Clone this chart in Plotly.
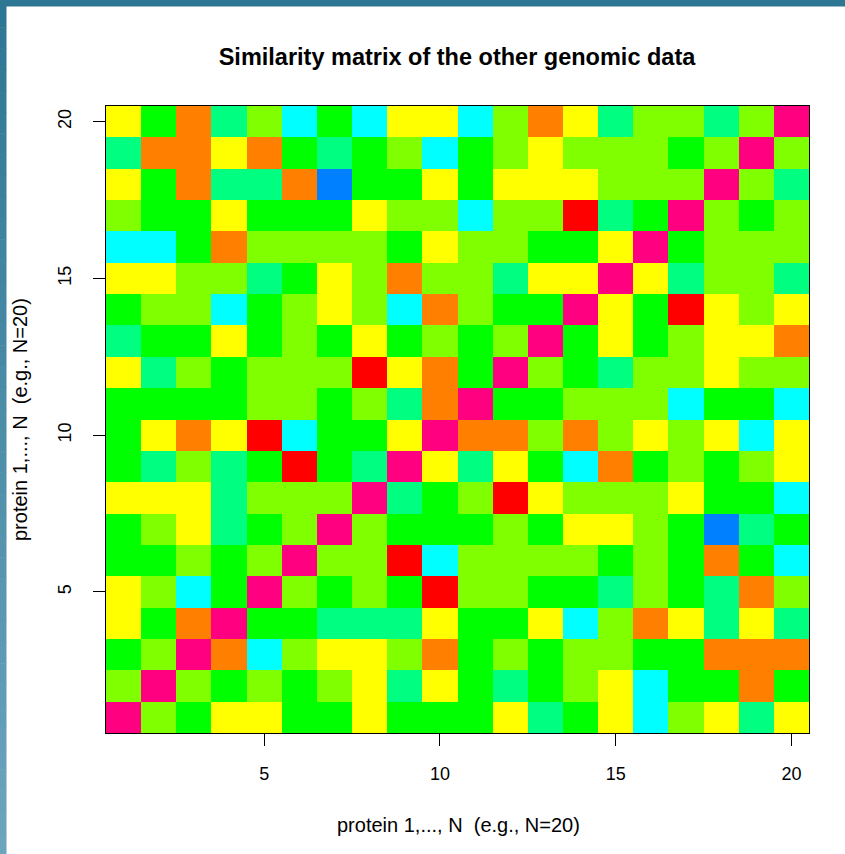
import plotly.graph_objects as go

# Similarity levels (0=red ... 8=magenta/diagonal), rows are protein 1..20 (y), columns protein 1..20 (x)
level_colors = ["#FF0000", "#FF8000", "#FFFF00", "#80FF00", "#00FF00",
                "#00FF80", "#00FFFF", "#0080FF", "#FF0080"]

proteins = list(range(1, 21))
tick_values = [5, 10, 15, 20]

row_01 = [8, 3, 4, 2, 2, 4, 4, 2, 4, 4, 4, 2, 5, 4, 2, 6, 3, 2, 5, 2]
row_02 = [3, 8, 3, 4, 3, 4, 3, 2, 5, 2, 4, 5, 4, 3, 2, 6, 4, 4, 1, 4]
row_03 = [4, 3, 8, 1, 6, 3, 2, 2, 3, 1, 4, 3, 4, 3, 3, 4, 4, 1, 1, 1]
row_04 = [2, 4, 1, 8, 4, 4, 5, 5, 5, 2, 4, 4, 2, 6, 3, 1, 2, 5, 2, 5]
row_05 = [2, 3, 6, 4, 8, 3, 4, 3, 4, 0, 3, 3, 4, 4, 5, 3, 4, 5, 1, 3]
row_06 = [4, 4, 3, 4, 3, 8, 3, 3, 0, 6, 3, 3, 3, 3, 4, 3, 4, 1, 4, 6]
row_07 = [4, 3, 2, 5, 4, 3, 8, 3, 4, 4, 4, 3, 4, 2, 2, 3, 4, 7, 5, 4]
row_08 = [2, 2, 2, 5, 3, 3, 3, 8, 5, 4, 3, 0, 2, 3, 3, 3, 2, 4, 4, 6]
row_09 = [4, 5, 3, 5, 4, 0, 4, 5, 8, 2, 5, 2, 4, 6, 1, 4, 3, 4, 3, 2]
row_10 = [4, 2, 1, 2, 0, 6, 4, 4, 2, 8, 1, 1, 3, 1, 3, 2, 3, 2, 6, 2]
row_11 = [4, 4, 4, 4, 3, 3, 4, 3, 5, 1, 8, 4, 4, 3, 3, 3, 6, 4, 4, 6]
row_12 = [2, 5, 3, 4, 3, 3, 3, 0, 2, 1, 4, 8, 3, 4, 5, 3, 3, 2, 3, 3]
row_13 = [5, 4, 4, 2, 4, 3, 4, 2, 4, 3, 4, 3, 8, 4, 2, 4, 3, 2, 2, 1]
row_14 = [4, 3, 3, 6, 4, 3, 2, 3, 6, 1, 3, 4, 4, 8, 2, 4, 0, 2, 3, 2]
row_15 = [2, 2, 3, 3, 5, 4, 2, 3, 1, 3, 3, 5, 2, 2, 8, 2, 5, 3, 3, 5]
row_16 = [6, 6, 4, 1, 3, 3, 3, 3, 4, 2, 3, 3, 4, 4, 2, 8, 4, 3, 3, 3]
row_17 = [3, 4, 4, 2, 4, 4, 4, 2, 3, 3, 6, 3, 3, 0, 5, 4, 8, 3, 4, 3]
row_18 = [2, 4, 1, 5, 5, 1, 7, 4, 4, 2, 4, 2, 2, 2, 3, 3, 3, 8, 3, 5]
row_19 = [5, 1, 1, 2, 1, 4, 5, 4, 3, 6, 4, 3, 2, 3, 3, 3, 4, 3, 8, 3]
row_20 = [2, 4, 1, 5, 3, 6, 4, 6, 2, 2, 6, 3, 1, 2, 5, 3, 3, 5, 3, 8]

similarity = [row_01, row_02, row_03, row_04, row_05, row_06, row_07, row_08, row_09, row_10,
              row_11, row_12, row_13, row_14, row_15, row_16, row_17, row_18, row_19, row_20]

title_text = "Similarity matrix of the other genomic data"
axis_label = "protein 1,..., N\u00a0 (e.g., N=20)"

# stepwise discrete colorscale
n = len(level_colors)
colorscale = []
for i, c in enumerate(level_colors):
    colorscale.append([i / n, c])
    colorscale.append([(i + 1) / n, c])

W, H = 845, 854
ML, MR, MT, MB = 106, 36, 106, 121
PW, PH = W - ML - MR, H - MT - MB


def px_x(px):
    return (px - ML) / PW


def px_y(py):
    return (H - MB - py) / PH


fig = go.Figure(go.Heatmap(
    z=similarity, x=proteins, y=proteins,
    colorscale=colorscale, zmin=-0.5, zmax=n - 0.5,
    showscale=False, xgap=0, ygap=0, hoverinfo="x+y+z",
))

font_family = "Liberation Sans, Arial, Helvetica, sans-serif"

shapes = []
# top frame band
shapes.append(dict(type="rect", xref="paper", yref="paper", x0=px_x(-5), x1=px_x(W + 5),
                   y0=px_y(6.5), y1=px_y(-5), fillcolor="#2E7794", line=dict(width=0), layer="above"))
# left frame band (gradient)
top_rgb = (0x2E, 0x77, 0x94)
bot_rgb = (0x6C, 0xA4, 0xBD)
steps = 40
for k in range(steps):
    t = k / (steps - 1)
    col = "rgb(%d,%d,%d)" % tuple(int(round(a + (b - a) * t)) for a, b in zip(top_rgb, bot_rgb))
    y0p = 6 + (H - 6) * k / steps
    y1p = 6 + (H - 6) * (k + 1) / steps
    shapes.append(dict(type="rect", xref="paper", yref="paper", x0=px_x(-5), x1=px_x(6.5),
                       y0=px_y(y1p + 0.5), y1=px_y(y0p), fillcolor=col, line=dict(width=0), layer="above"))

fig.update_layout(
    width=W, height=H,
    margin=dict(l=ML, r=MR, t=MT, b=MB),
    paper_bgcolor="white", plot_bgcolor="white",
    font=dict(family=font_family, color="black"),
    title=dict(text="<b>" + title_text + "</b>", x=px_x(457), xref="paper", xanchor="center",
               y=1 - 57 / H, yref="container", yanchor="middle",
               font=dict(size=23.5, family=font_family, color="black")),
    xaxis=dict(range=[0.5, 20.5], tickmode="array", tickvals=tick_values,
               ticks="outside", ticklen=12, tickcolor="black", tickwidth=1,
               showline=True, linecolor="black", linewidth=1, mirror=True,
               showgrid=False, zeroline=False, tickfont=dict(size=18),
               ticklabelstandoff=12),
    yaxis=dict(range=[0.5, 20.5], tickmode="array", tickvals=tick_values,
               ticks="outside", ticklen=12, tickcolor="black", tickwidth=1,
               showline=True, linecolor="black", linewidth=1, mirror=True,
               showgrid=False, zeroline=False, tickfont=dict(size=18), tickangle=-90,
               ticklabelstandoff=15),
    annotations=[
        dict(text=axis_label, xref="paper", yref="paper", x=px_x(458), y=px_y(825),
             xanchor="center", yanchor="middle", showarrow=False, font=dict(size=20)),
        dict(text=axis_label, xref="paper", yref="paper", x=px_x(20), y=px_y(420),
             xanchor="center", yanchor="middle", showarrow=False, textangle=-90, font=dict(size=20)),
    ],
    shapes=shapes,
)

fig.write_html(
    "out.html",
    config={"displayModeBar": False},
    post_script="document.body.style.margin='0';document.body.style.overflow='hidden';",
)
